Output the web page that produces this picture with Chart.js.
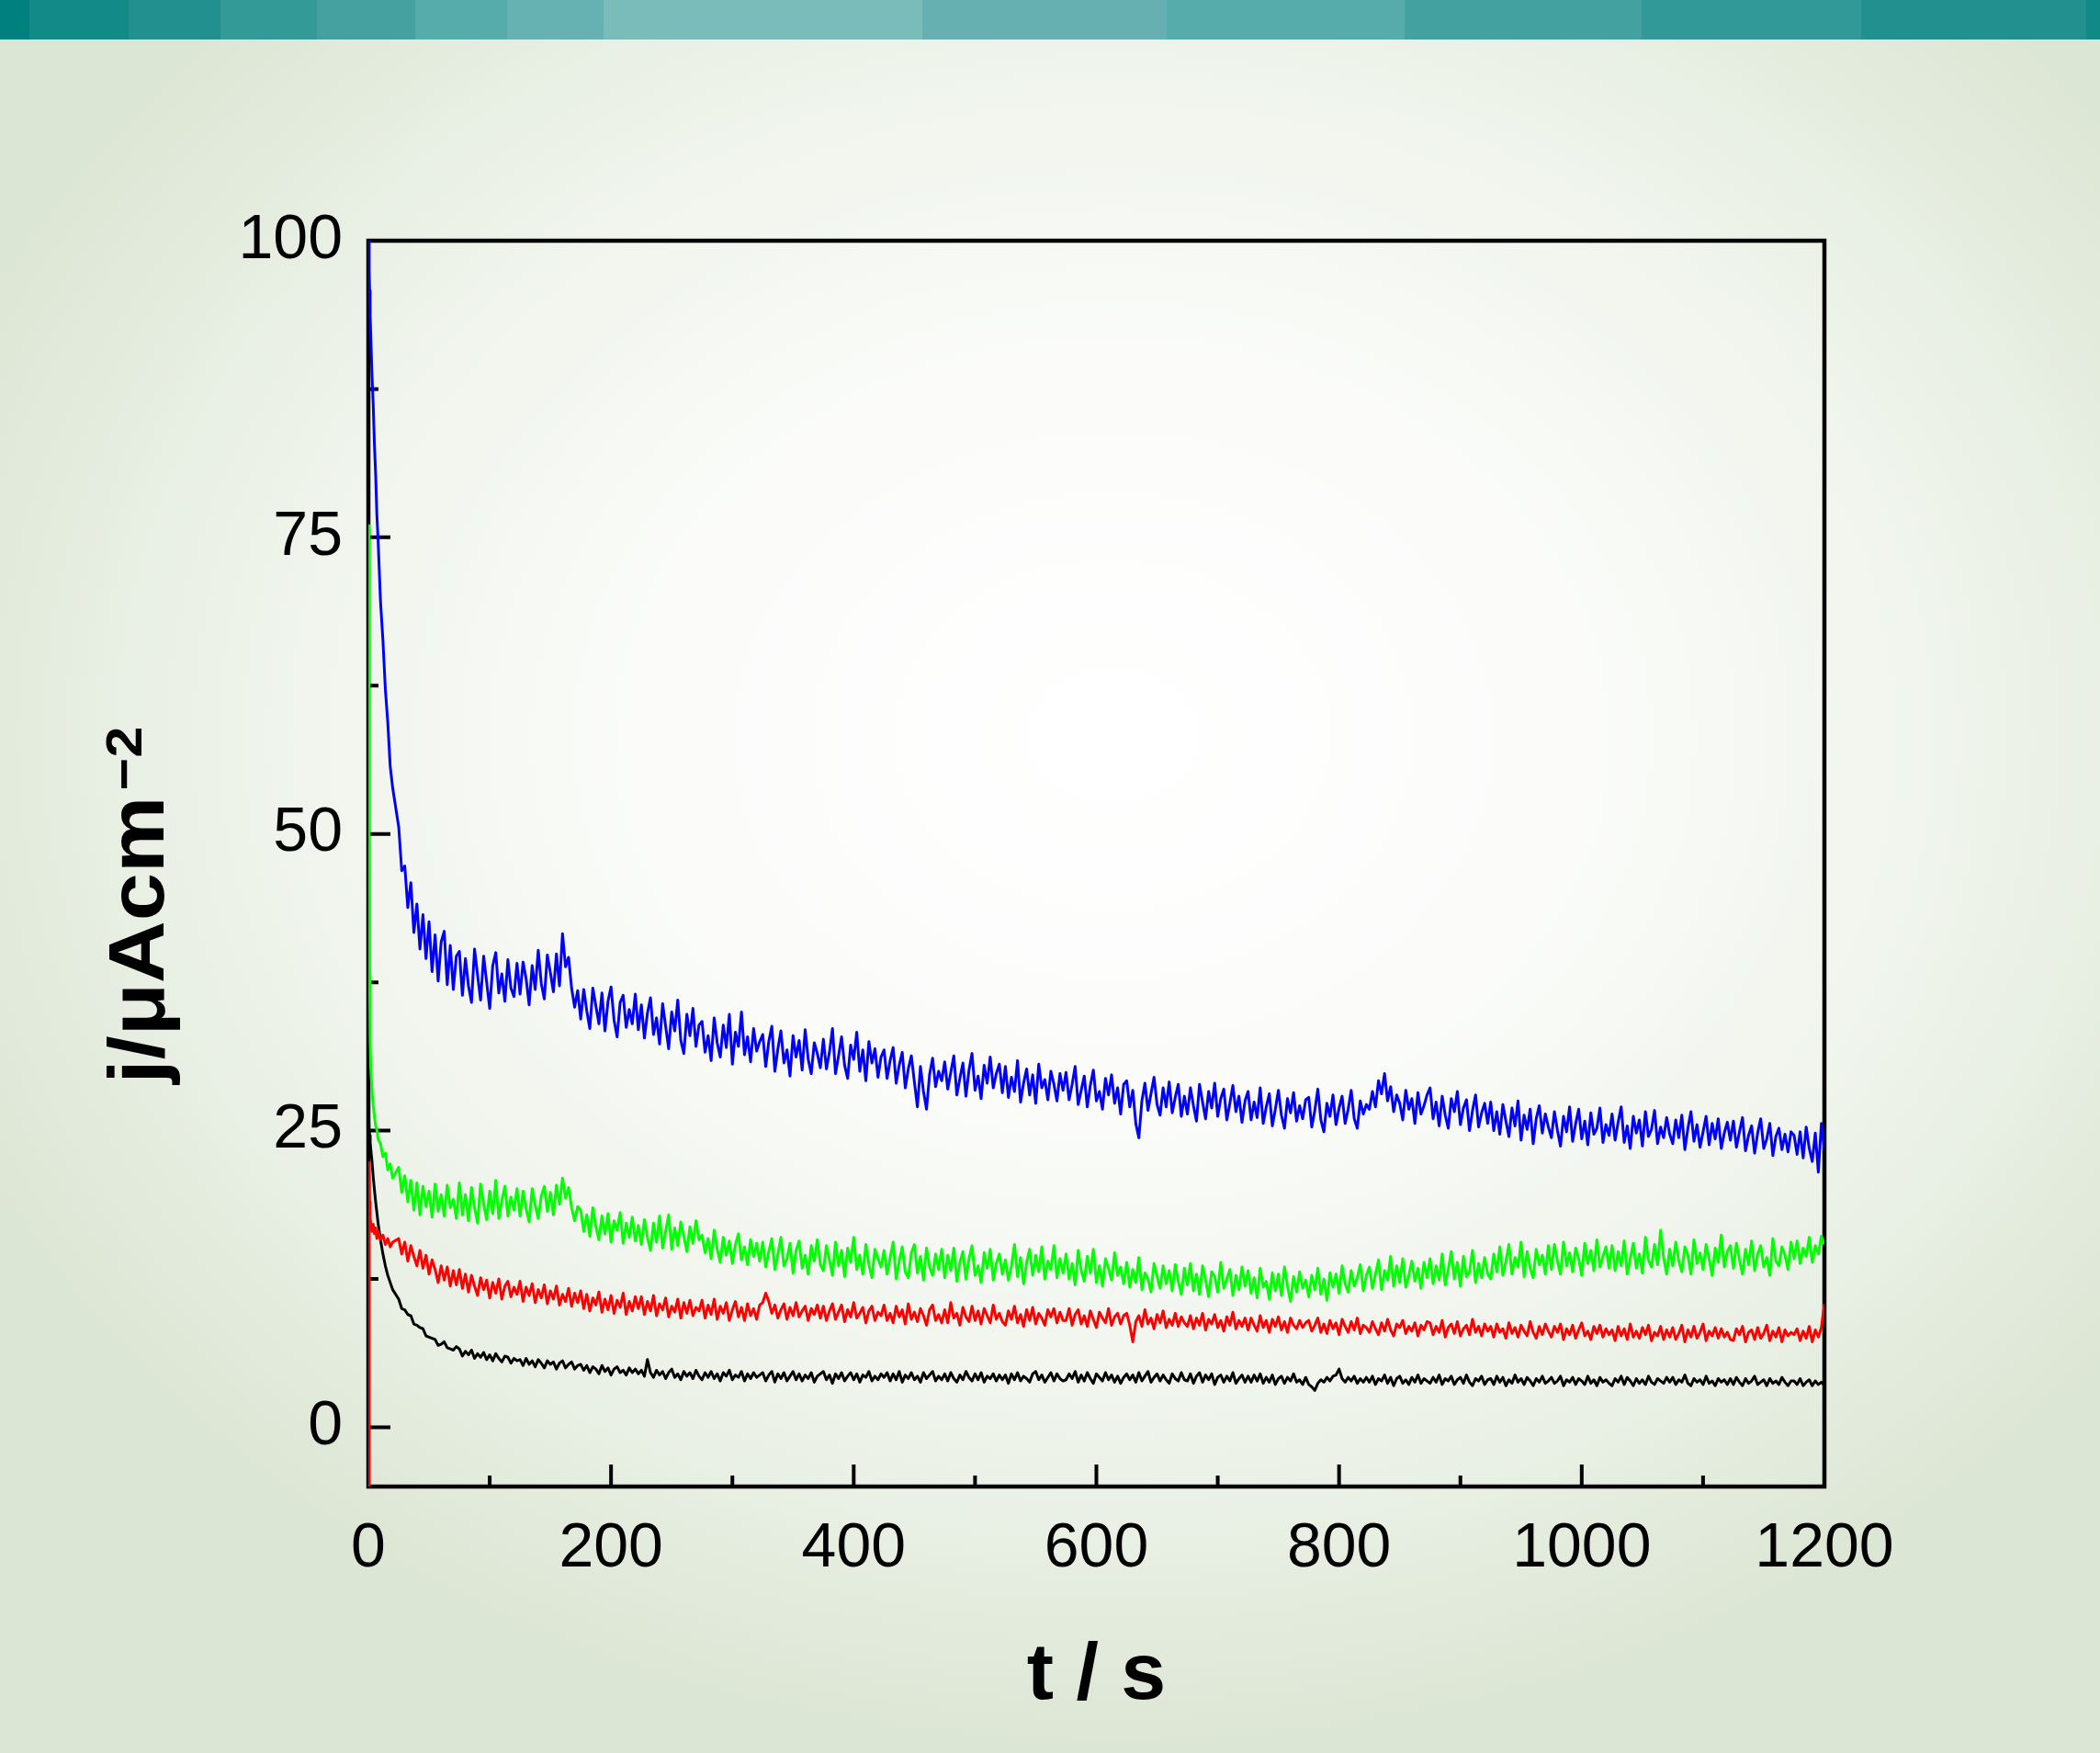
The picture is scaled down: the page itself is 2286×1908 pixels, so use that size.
<!DOCTYPE html>
<html lang="fr">
<head>
<meta charset="utf-8">
<title>j / t</title>
<script src="https://cdn.jsdelivr.net/npm/chart.js@4.4.1/dist/chart.umd.min.js"></script>
<style>
    html, body { margin: 0; padding: 0; }
    body {
        width: 2286px;
        height: 1908px;
        overflow: hidden;
        position: relative;
        background-color: #d9e4d1;
        background-image: radial-gradient(ellipse 60% 58% at 53% 42%, #ffffff 0%, #fbfcfa 36%, #eef3ea 70%, #dce6d4 100%);
    }
    .bandeau {
        position: absolute;
        left: 0;
        top: 0;
        width: 2286px;
        height: 43px;
        background: linear-gradient(to right,
            #00807e 0 32px, #128a88 32px 140px, #22908e 140px 240px, #339a98 240px 345px,
            #44a1a0 345px 452px, #55acaa 452px 552px, #66b2b2 552px 657px, #79bcba 657px 1004px,
            #66b0b1 1004px 1270px, #55acaa 1270px 1529px, #43a1a0 1529px 1787px, #319a98 1787px 2026px,
            #21908e 2026px 2271px, #108987 2271px 2286px);
    }
    canvas { position: absolute; left: 0; top: 0; }
</style>
</head>
<body>
<div class="bandeau"></div>
<canvas id="graphique" width="2286" height="1908"></canvas>
<script>
const canvas = document.getElementById("graphique");

// Graduations des axes
const xGraduations = [0, 200, 400, 600, 800, 1000, 1200];
const xGraduationsMineures = [100, 300, 500, 700, 900, 1100];
const yGraduations = [0, 25, 50, 75, 100];
const yGraduationsMineures = [12.5, 37.5, 62.5, 87.5];

// Temps (s) : début serré, puis un point toutes les 2,5 s de 25 à 1200 s
const tempsDebut = [0, 0.5, 1, 1.5, 2, 3, 4, 5, 6, 7, 8, 10, 12, 14, 16, 18, 20];
const temps = tempsDebut.concat(Array.from({ length: 471 }, (_, i) => 25 + i * 2.5));

// Densité de courant (µA/cm²); une ligne = 50 s
const courantBleu = [
    100, 97.5, 95.8, 93.6, 91.9, 88.7, 86.2, 82.8, 80.3, 76.9, 74.8, 69.6, 66.3, 62.2, 59.4, 55.7, 53.9,
    50.6, 46.9, 47.3, 43.8, 45.9, 41.7, 44.1, 40.3, 43.2, 39.5, 42.6, 38.4, 41.5, 37.6, 40.9, 41.8, 37.3, 40.6, 36.9, 39.7,
    40.1, 36.4, 39.5, 37.2, 35.8, 40.3, 38.1, 36.0, 39.7, 37.5, 35.3, 38.9, 40.0, 36.6, 38.2, 35.9, 39.4, 37.0, 36.3, 39.1,
    36.5, 39.2, 37.8, 35.6, 38.9, 36.9, 40.2, 37.4, 36.1, 39.8, 38.3, 36.7, 39.9, 37.2, 41.6, 38.8, 39.6, 37.0, 35.4, 36.8,
    34.4, 36.9, 35.1, 33.6, 37.0, 35.5, 34.0, 36.6, 33.4, 35.9, 37.1, 34.3, 32.9, 35.8, 36.4, 33.7, 35.2, 34.0, 36.5, 33.5,
    35.6, 32.8, 34.9, 36.2, 33.1, 34.5, 32.3, 35.7, 33.8, 31.9, 35.0, 33.4, 36.0, 32.6, 31.5, 34.8, 33.0, 35.3, 32.1, 33.9,
    34.2, 31.6, 33.0, 30.9, 34.5, 32.4, 31.2, 33.9, 32.0, 34.8, 30.6, 33.3, 32.1, 35.0, 31.4, 32.9, 30.8, 33.6, 31.7, 32.5,
    33.1, 30.4, 32.5, 33.8, 30.0, 31.9, 33.4, 30.7, 31.8, 29.6, 33.0, 31.2, 32.6, 30.1, 33.5, 31.0, 29.8, 32.4, 31.5, 30.3,
    32.7, 30.2, 31.6, 33.6, 29.8, 31.3, 32.9, 30.5, 29.4, 32.2, 31.0, 33.3, 30.0, 31.8, 29.2, 32.5, 30.7, 31.9, 29.5, 31.2,
    31.8, 29.4, 30.9, 32.0, 29.0, 30.5, 31.6, 28.6, 30.2, 31.3, 29.1, 27.0, 30.4, 28.3, 26.8, 29.7, 31.1, 28.7, 30.0, 29.2,
    30.8, 28.5, 29.9, 31.3, 28.0, 29.4, 30.7, 27.9, 30.1, 31.5, 28.4, 29.6, 27.7, 30.5, 29.0, 31.2, 28.6, 29.8, 30.6, 28.2,
    30.4, 27.8, 29.5, 28.3, 30.9, 27.4, 29.0, 30.2, 28.0, 29.7, 27.3, 30.6, 28.6, 29.3, 27.6, 30.0, 28.9, 27.5, 29.8, 28.4,
    29.9, 27.6, 28.9, 30.4, 27.2, 28.4, 29.6, 27.0, 28.8, 30.1, 27.5, 28.3, 26.8, 29.4, 28.0, 29.7, 27.3, 28.6, 26.4, 28.9,
    29.2, 27.0, 28.4, 25.6, 24.4, 27.5, 29.0, 26.7, 28.1, 29.5, 27.2, 26.3, 28.6, 27.0, 29.1, 26.5, 27.8, 28.9, 26.2, 27.9,
    26.4, 28.6, 27.1, 25.8, 28.9, 27.4, 26.0, 28.3, 26.9, 29.0, 26.2, 27.7, 28.5, 25.9, 27.3, 28.8, 26.6, 27.9, 25.7, 27.5,
    28.3, 25.9, 27.4, 26.1, 28.6, 25.6, 27.0, 28.1, 25.4, 26.8, 28.4, 26.3, 25.2, 27.7, 26.5, 28.2, 25.8, 27.1, 26.0, 27.6,
    27.8, 25.3, 26.7, 28.5, 25.9, 24.9, 27.3, 26.2, 28.0, 25.5, 26.9, 27.9, 25.6, 26.8, 28.4, 26.0, 25.2, 27.5, 26.4, 27.2,
    26.8, 28.3, 27.0, 29.2, 28.1, 29.8, 27.5, 28.7, 26.6, 28.0, 27.3, 25.9, 28.4, 26.8, 27.7, 25.6, 28.2, 26.4, 27.1, 28.0,
    28.6, 26.0, 27.4, 25.4, 27.9, 26.3, 25.2, 27.7, 26.6, 28.3, 25.5, 26.9, 27.6, 25.0, 26.7, 28.0, 25.3, 26.5, 27.3, 25.6,
    27.4, 25.0, 26.6, 24.7, 27.2, 25.8, 24.5, 26.9, 25.4, 27.5, 24.2, 26.3, 25.1, 26.8, 23.9, 26.0, 27.1, 24.8, 26.4, 25.3,
    24.4, 26.6, 25.0, 23.7, 26.2, 24.9, 27.0, 24.1, 25.6, 26.8, 24.3, 25.8, 23.8, 26.5, 24.7, 25.2, 26.9, 24.0, 25.5, 24.6,
    26.4, 24.2, 25.7, 27.0, 24.0, 25.4, 23.5, 26.2, 24.8, 25.9, 23.7, 26.6, 24.5, 25.1, 26.7, 23.9, 25.3, 24.4, 26.1, 24.7,
    23.9, 25.9, 24.4, 26.3, 23.4, 25.2, 26.6, 24.1, 25.5, 23.6, 24.9, 26.2, 23.8, 25.6, 24.3, 26.0, 23.5, 24.8, 25.7, 24.2,
    25.8, 23.6, 24.9, 26.1, 23.3, 24.6, 25.4, 23.1, 24.8, 26.0, 23.5, 24.3, 25.6, 22.9, 24.5, 25.2, 23.4, 24.7, 23.2, 24.9,
    24.6, 23.0, 24.9, 22.7, 25.3, 23.5, 22.4, 24.8, 21.5, 25.6, 23.4
];

const courantVert = [
    76, 52, 38, 32.5, 30.2, 28.3, 27.1, 26.2, 25.4, 25.1, 24.3, 23.9, 22.8, 23.1, 21.7, 22.2, 21.0,
    21.9, 19.8, 21.2, 19.0, 20.8, 18.3, 20.6, 17.9, 20.3, 18.6, 19.9, 17.7, 20.5, 18.2, 19.6, 17.8, 20.4, 18.5, 19.2, 17.6,
    20.6, 17.9, 19.6, 17.4, 20.2, 18.5, 17.2, 20.5, 18.8, 17.5, 19.9, 18.0, 20.8, 17.6, 19.1, 20.3, 17.8, 19.4, 18.3, 20.1,
    17.8, 19.9, 18.4, 17.3, 20.1, 18.7, 17.6, 19.5, 20.3, 18.2, 19.8, 17.9, 20.4, 18.8, 21.0, 19.3, 20.2, 18.5, 17.4, 18.6,
    18.3, 16.5, 17.9, 16.1, 18.5, 16.9, 15.8, 17.8, 16.3, 18.0, 15.6, 17.4, 16.6, 18.1, 15.5, 17.2, 16.0, 17.7, 15.7, 17.0,
    15.4, 17.5, 16.0, 14.9, 17.2, 15.6, 17.8, 15.1, 16.5, 17.9, 15.0, 16.8, 15.3, 17.3, 16.1, 14.8, 16.9, 15.5, 17.4, 15.8,
    16.2, 14.7, 15.9, 14.2, 16.6, 15.0, 13.9, 16.0, 14.5, 15.7, 13.8, 15.4, 16.3, 14.1, 15.2, 13.7, 15.8, 14.4, 15.5, 14.0,
    15.6, 13.5, 14.8, 15.9, 13.3, 14.6, 16.0, 13.6, 14.2, 15.5, 13.0, 14.9, 15.7, 13.4, 14.5, 12.9, 15.3, 14.0, 15.8, 13.7,
    13.2, 15.3, 14.1, 12.8, 15.6, 13.6, 14.9, 12.7, 15.1, 13.9, 16.0, 13.3, 14.5, 12.9, 15.4, 13.7, 12.6, 15.0, 14.2, 13.5,
    14.9, 12.9, 14.3, 15.6, 12.5, 14.0, 15.2, 13.1, 12.6, 14.7, 15.4, 13.0, 14.4, 12.4, 15.1, 13.5, 12.8, 14.6, 13.3, 15.0,
    12.6, 14.5, 13.2, 15.1, 12.3, 13.9, 14.8, 12.5, 14.2, 15.3, 12.8, 13.6, 12.2, 14.7, 13.4, 15.0, 12.4, 13.8, 14.6, 12.9,
    14.1, 12.4, 13.6, 15.4, 12.7, 14.3, 12.1, 13.9, 15.0, 12.8, 14.5, 13.1, 15.2, 12.5, 14.0, 13.3, 15.3, 12.6, 14.2, 13.0,
    14.6, 12.5, 13.8, 12.0, 14.9, 13.2, 12.3, 14.4, 13.0, 15.0, 12.2, 13.6, 11.9, 14.2, 13.4, 12.4, 14.7, 12.8, 13.5, 12.1,
    13.9, 11.8, 13.3, 12.2, 14.3, 11.6, 13.0, 12.5, 11.4, 13.8, 12.7, 11.7, 13.6, 12.1, 13.2, 11.5, 13.7, 12.3, 11.2, 13.4,
    12.0, 13.8, 11.5, 12.9, 11.2, 13.6, 12.4, 11.0, 13.1, 12.7, 11.4, 13.9, 11.7, 12.5, 13.3, 11.1, 12.8, 11.6, 13.5, 11.9,
    13.2, 11.3, 12.6, 10.9, 13.4, 11.8, 12.3, 10.8, 13.0, 11.5, 12.9, 11.1, 13.5, 11.9, 10.6, 12.7, 11.4, 13.1, 11.7, 12.4,
    11.0, 12.8, 11.6, 13.4, 11.2, 12.5, 10.7, 13.0, 11.8, 12.9, 11.3, 13.6, 12.1, 11.4, 13.2, 11.9, 12.6, 13.7, 11.5, 12.8,
    13.5, 11.7, 12.9, 14.1, 11.6, 13.2, 12.4, 14.4, 11.9, 13.6, 12.2, 14.2, 11.8, 12.8, 14.0, 12.3, 13.4, 11.7, 13.9, 12.6,
    14.2, 12.1, 13.6, 12.4, 14.6, 12.0, 13.3, 14.8, 12.5, 13.9, 11.9, 14.4, 12.7, 13.1, 14.9, 12.2, 13.8, 12.6, 14.3, 12.9,
    12.5, 14.6, 13.1, 15.2, 12.8, 14.0, 15.4, 12.9, 14.3, 13.5, 15.6, 12.7, 14.8, 13.4, 12.6, 15.0, 13.7, 14.5, 12.9, 15.3,
    13.3, 15.4, 14.0, 12.9, 15.6, 13.6, 14.7, 13.1, 15.1, 14.2, 12.8, 15.5, 13.8, 14.9, 13.2, 15.8, 13.5, 14.4, 15.2, 13.4,
    15.3, 13.2, 14.8, 13.6, 15.7, 12.9, 14.2, 15.5, 13.4, 14.6, 13.0, 16.0, 14.1, 13.5, 15.4, 13.7, 16.6, 14.3, 12.9, 15.0,
    13.6, 15.6, 14.0, 13.1, 15.2, 14.5, 12.9, 15.8, 13.8, 14.7, 13.3, 15.4, 14.2, 12.8, 15.1, 13.9, 16.2, 13.5, 14.8, 15.3,
    13.4, 15.5, 14.1, 12.9, 15.0, 13.7, 15.7, 13.2, 14.6, 15.3, 13.5, 14.3, 12.8, 15.9, 14.0, 13.6, 15.2, 14.5, 13.3, 15.6,
    14.2, 15.7, 13.8, 15.1, 14.4, 16.0, 13.9, 15.3, 14.6, 16.1, 15.4
];

const courantRouge = [
    -5, 22.3, 19.0, 17.6, 17.2, 16.5, 17.1, 16.3, 16.8, 15.9, 16.5, 15.8, 16.2, 15.4, 15.9, 15.2, 15.6,
    15.9, 14.6, 15.6, 14.0, 15.3, 14.4, 13.6, 14.9, 13.4, 14.5, 12.9, 14.1, 13.3, 12.2, 13.6, 12.4, 13.5, 11.9, 13.2, 12.0,
    13.3, 11.7, 12.9, 11.4, 12.8, 11.9, 11.1, 12.6, 11.6, 12.4, 10.9, 12.2, 11.3, 12.5, 10.8, 11.9, 12.3, 11.0, 11.8, 11.2,
    12.3, 10.6, 11.8, 11.1, 12.1, 10.5, 11.6, 10.9, 12.0, 10.4, 11.5, 10.8, 11.9, 10.3, 11.2, 10.6, 11.7, 10.2, 11.3, 10.5,
    11.5, 10.0, 11.2, 9.8, 10.9, 10.3, 11.4, 9.7, 10.8, 9.9, 11.1, 9.6, 10.7, 10.1, 11.3, 9.5, 10.6, 9.8, 11.0, 10.0,
    11.0, 9.5, 10.6, 9.8, 11.1, 9.4, 10.4, 9.9, 10.9, 9.3, 10.2, 9.7, 10.8, 9.2, 10.5, 9.6, 10.7, 9.4, 10.1, 9.8,
    10.7, 9.2, 10.3, 9.5, 10.8, 9.1, 10.2, 9.6, 10.5, 9.0, 9.9, 10.6, 9.3, 10.1, 9.0, 10.4, 9.4, 10.0, 9.1, 10.3,
    10.5, 11.3, 10.6, 9.6, 10.3, 9.2, 9.9, 10.4, 9.1, 10.1, 9.4, 10.5, 9.3, 9.8, 10.2, 9.0, 10.0, 9.5, 10.3, 9.2,
    10.2, 9.0, 9.8, 10.4, 9.1, 9.7, 10.3, 8.9, 9.9, 9.3, 10.5, 9.2, 9.6, 10.1, 8.8, 9.8, 10.2, 9.0, 9.7, 9.4,
    10.3, 9.0, 9.6, 8.8, 10.2, 9.3, 9.9, 8.7, 10.4, 9.1, 9.7, 8.9, 10.0, 9.4, 8.6, 9.9, 10.3, 9.0, 9.5, 8.8,
    9.9, 8.8, 10.5, 9.2, 9.6, 8.6, 10.1, 9.3, 8.9, 10.2, 9.0, 9.8, 8.7, 10.0, 9.4, 8.8, 10.3, 9.1, 9.6, 8.9,
    8.6, 9.8, 9.1, 10.2, 8.8, 9.5, 8.5, 9.9, 9.0, 10.1, 8.7, 9.6, 9.2, 8.6, 9.9, 9.3, 10.0, 8.8, 9.7, 9.0,
    9.0, 10.0, 8.6, 9.5, 9.9, 8.7, 9.4, 8.5, 9.8, 9.1, 8.4, 9.7, 9.2, 8.8, 10.0, 8.6, 9.3, 9.6, 8.7, 9.4,
    9.6, 8.6, 7.2, 8.9, 9.4, 8.5, 9.9, 8.7, 9.2, 8.3, 9.5, 8.8, 9.8, 8.4, 9.1, 8.6, 9.6, 8.5, 9.3, 8.8,
    8.5, 9.4, 8.3, 9.2, 8.6, 9.6, 8.2, 9.1, 8.7, 9.5, 8.4, 9.0, 8.1, 9.3, 8.6, 9.7, 8.3, 9.0, 8.5, 9.2,
    8.2, 9.2, 8.6, 8.1, 9.4, 8.4, 9.0, 8.0, 9.1, 8.5, 9.3, 8.2, 8.9, 8.0, 9.2, 8.6, 8.3, 9.0, 8.4, 8.8,
    9.0, 8.1, 8.6, 9.2, 8.0, 8.7, 7.9, 9.0, 8.3, 8.8, 7.8, 9.1, 8.5, 8.0, 8.9, 8.2, 9.2, 7.9, 8.6, 8.4,
    8.0, 8.9, 8.3, 7.8, 8.8, 8.1, 9.1, 8.2, 7.7, 8.7, 8.4, 9.0, 7.9, 8.5, 8.1, 8.8, 7.7, 8.6, 8.2, 8.9,
    8.8, 7.8, 8.5, 8.0, 9.0, 7.6, 8.4, 8.7, 7.9, 8.9, 7.7, 8.3, 8.6, 7.8, 9.1, 8.0, 8.5, 7.7, 8.7, 8.1,
    8.5, 7.6, 8.7, 8.0, 8.3, 7.5, 8.8, 7.9, 8.4, 7.6, 8.6, 8.1, 7.7, 8.9, 8.0, 7.5, 8.5, 7.8, 8.7, 8.1,
    7.6, 8.5, 8.0, 8.7, 7.4, 8.3, 7.8, 8.6, 7.5, 8.2, 8.8, 7.7, 8.1, 7.4, 8.5, 7.9, 8.6, 7.6, 8.3, 7.8,
    8.2, 7.3, 8.5, 7.7, 8.3, 7.4, 8.7, 7.6, 8.1, 7.5, 8.4, 7.8, 8.6, 7.3, 8.0, 7.7, 8.5, 7.4, 8.2, 7.6,
    8.4, 7.4, 7.9, 8.6, 7.2, 8.2, 7.6, 8.5, 7.5, 8.0, 8.7, 7.3, 8.1, 7.7, 8.4, 7.5, 8.3, 7.6, 8.0, 7.4,
    7.3, 8.3, 7.8, 8.5, 7.2, 8.0, 8.2, 7.4, 8.4, 7.5, 7.9, 8.6, 7.3, 8.1, 7.6, 8.4, 7.2, 8.2, 7.7, 8.0,
    7.8, 8.3, 7.3, 8.1, 7.5, 8.5, 7.2, 8.2, 7.6, 8.4, 10.4
];

const courantNoir = [
    25.6, 25.2, 24.6, 24.0, 23.4, 22.4, 21.1, 20.0, 19.0, 18.1, 17.2, 15.8, 14.6, 13.6, 12.8, 12.2, 11.6,
    10.8, 10.0, 9.9, 9.5, 9.4, 8.7, 8.6, 8.4, 8.3, 7.7, 7.6, 7.5, 7.4, 6.9, 7.0, 7.2, 6.7, 6.6, 6.5, 6.8,
    6.6, 6.0, 6.4, 6.1, 6.5, 5.8, 6.2, 5.9, 6.3, 5.7, 6.1, 5.6, 6.2, 5.8, 5.5, 6.0, 5.9, 5.4, 5.8, 5.6,
    5.7, 5.2, 5.8, 5.3, 5.6, 5.1, 5.7, 5.4, 5.0, 5.6, 5.3, 5.5, 4.9, 5.4, 5.6, 5.0, 5.3, 5.5, 4.9, 5.2,
    5.3, 4.8, 5.2, 4.6, 5.1, 4.9, 4.5, 5.2, 4.7, 5.0, 4.4, 4.9, 5.1, 4.6, 4.8, 4.4, 5.0, 4.6, 4.9, 4.5,
    4.8, 4.3, 5.7, 4.6, 4.2, 4.8, 4.4, 4.7, 4.1, 4.6, 4.9, 4.2, 4.5, 4.0, 4.7, 4.3, 4.6, 4.1, 4.8, 4.3,
    4.0, 4.6, 4.2, 4.7, 4.1, 4.5, 3.9, 4.6, 4.3, 4.8, 4.0, 4.4, 4.2, 4.7, 3.9, 4.5, 4.1, 4.6, 4.2, 4.4,
    4.6, 3.9, 4.4, 4.7, 3.8, 4.5, 4.1, 4.6, 3.9, 4.3, 4.7, 4.0, 4.5, 3.9, 4.4, 4.1, 4.6, 3.8, 4.3, 4.5,
    4.7, 4.0, 4.4, 3.7, 4.5, 4.1, 4.6, 3.9, 4.3, 4.6, 4.0, 4.5, 3.8, 4.4, 4.2, 4.7, 3.9, 4.3, 4.0, 4.5,
    4.2, 4.6, 3.9, 4.5, 4.0, 4.7, 3.8, 4.4, 4.1, 4.6, 4.0, 4.3, 3.8, 4.6, 4.1, 4.4, 4.7, 3.9, 4.3, 4.0,
    4.5, 3.9, 4.6, 4.1, 3.8, 4.4, 4.0, 4.7, 4.2, 3.9, 4.5, 4.0, 4.6, 3.8, 4.3, 4.1, 4.5, 3.9, 4.4, 4.0,
    4.4, 3.7, 4.5, 4.0, 4.6, 3.9, 4.3, 4.1, 3.8, 4.5, 4.7, 4.0, 4.4, 3.8, 4.2, 4.6, 3.9, 4.5, 4.1, 3.9,
    4.0, 4.5, 4.1, 4.7, 3.8, 4.4, 3.9, 4.6, 4.1, 3.7, 4.5, 4.2, 3.9, 4.6, 4.0, 4.4, 3.8, 4.3, 3.7, 4.2,
    4.5, 4.0, 4.4, 3.8, 4.6, 3.9, 4.3, 4.7, 3.8, 4.2, 4.5, 3.9, 4.4, 4.0, 3.7, 4.5, 4.1, 3.9, 4.6, 4.0,
    3.9, 4.5, 3.7, 4.3, 4.6, 3.8, 4.4, 4.0, 4.5, 3.6, 4.2, 4.4, 3.8, 4.3, 3.9, 4.6, 3.7, 4.1, 4.4, 3.8,
    4.3, 3.8, 4.4, 3.9, 4.5, 3.7, 4.2, 3.8, 4.4, 3.6, 4.1, 4.3, 3.7, 4.2, 3.9, 4.5, 3.8, 4.0, 3.6, 4.2,
    3.6, 3.4, 3.1, 3.7, 4.0, 3.8, 4.2, 3.9, 4.3, 4.4, 4.9, 4.1, 3.8, 4.2, 3.9, 4.3, 3.7, 4.1, 3.8, 4.2,
    3.8, 4.3, 3.6, 4.1, 3.9, 4.4, 3.7, 4.2, 3.5, 4.1, 4.3, 3.7, 4.0, 3.6, 4.2, 3.8, 4.4, 3.7, 4.1, 3.9,
    3.7, 4.2, 3.8, 4.4, 3.6, 4.1, 3.9, 4.3, 3.6, 4.0, 4.2, 3.7, 4.4, 3.8, 3.5, 4.1, 3.9, 4.3, 3.6, 4.0,
    4.1, 3.6, 4.3, 3.8, 4.2, 3.5, 4.0, 3.7, 4.4, 3.8, 4.1, 3.6, 4.2, 3.9, 3.5, 4.1, 3.8, 4.3, 3.7, 3.9,
    4.2, 3.7, 3.9, 4.3, 3.5, 4.0, 3.8, 4.2, 3.6, 4.1, 3.9, 3.6, 4.3, 3.7, 4.0, 3.5, 4.2, 3.8, 4.0, 3.7,
    3.5, 4.1, 3.8, 4.3, 3.6, 4.2, 3.9, 3.5, 4.1, 3.7, 4.0, 3.6, 4.3, 3.8, 3.6, 4.1, 3.9, 3.7, 4.2, 3.8,
    4.2, 3.6, 4.0, 3.8, 4.4, 3.7, 3.5, 4.1, 3.8, 4.0, 3.6, 4.3, 3.7, 3.9, 3.5, 4.1, 3.8, 4.0, 3.6, 4.1,
    3.6, 4.2, 3.8, 3.5, 4.1, 3.7, 3.9, 4.3, 3.6, 3.8, 4.0, 3.5, 4.1, 3.7, 3.9, 3.6, 4.2, 3.8, 3.5, 3.9,
    3.9, 3.6, 4.1, 3.5, 3.8, 4.0, 3.5, 3.9, 3.6, 3.8, 3.5
];

[courantBleu, courantVert, courantRouge, courantNoir].forEach(s => {
    if (s.length !== temps.length) console.warn('longueur', s.length, temps.length);
});

const police = '"Liberation Sans", Arial, sans-serif';

function points(valeurs) {
    // associe chaque valeur à son instant
    return valeurs.map((v, i) => ({ x: temps[i], y: v }));
}

function courbe(valeurs, couleur) {
    return {
        data: points(valeurs),
        borderColor: couleur,
        borderWidth: 3,
        borderJoinStyle: 'round',
        pointRadius: 0,
        tension: 0,
        fill: false,
    };
}

// Cadre, graduations internes et titres des axes
const cadre = {
    id: 'cadre',
    beforeDatasetsDraw(chart) {
        const { ctx, chartArea: a, scales: { x, y } } = chart;
        ctx.save();
        ctx.strokeStyle = '#000';
        ctx.lineWidth = 4;
        ctx.beginPath();
        xGraduations.forEach(v => {
            const px = x.getPixelForValue(v);
            ctx.moveTo(px, a.bottom);
            ctx.lineTo(px, a.bottom - 24);
        });
        xGraduationsMineures.forEach(v => {
            const px = x.getPixelForValue(v);
            ctx.moveTo(px, a.bottom);
            ctx.lineTo(px, a.bottom - 12);
        });
        yGraduations.forEach(v => {
            const py = y.getPixelForValue(v);
            ctx.moveTo(a.left, py);
            ctx.lineTo(a.left + 24, py);
        });
        yGraduationsMineures.forEach(v => {
            const py = y.getPixelForValue(v);
            ctx.moveTo(a.left, py);
            ctx.lineTo(a.left + 11, py);
        });
        ctx.stroke();
        ctx.lineWidth = 4.5;
        ctx.strokeRect(a.left, a.top, a.right - a.left, a.bottom - a.top);
        ctx.restore();
    },
    afterDraw(chart) {
        const { ctx, scales: { x } } = chart;
        ctx.save();
        ctx.fillStyle = '#000';
        ctx.textBaseline = 'alphabetic';

        // titre de l'axe x
        ctx.textAlign = 'center';
        ctx.font = 'bold 88px ' + police;
        ctx.fillText('t / s', x.getPixelForValue(600), 1849);

        // titre de l'axe y, avec exposant
        const principal = 'j/μAcm';
        const exposant = '−2';
        ctx.textAlign = 'left';
        ctx.font = 'bold 86px ' + police;
        const lP = ctx.measureText(principal).width;
        ctx.font = 'bold 56px ' + police;
        const lE = ctx.measureText(exposant).width;
        ctx.translate(178, 985);
        ctx.rotate(-Math.PI / 2);
        ctx.scale(1.09, 1);
        const debut = -(lP + lE + 6) / 2;
        ctx.font = 'bold 86px ' + police;
        ctx.fillText(principal, debut, 0);
        ctx.font = 'bold 56px ' + police;
        ctx.fillText(exposant, debut + lP + 6, -24);
        ctx.restore();
    }
};

new Chart(canvas.getContext('2d'), {
    type: 'line',
    data: {
        datasets: [
            courbe(courantRouge, '#ff0000'),
            courbe(courantNoir, '#000000'),
            courbe(courantVert, '#00ff00'),
            courbe(courantBleu, '#0000ff'),
        ],
    },
    options: {
        responsive: false,
        animation: false,
        layout: { padding: { top: 262, right: 300, left: 0, bottom: 0 } },
        plugins: {
            legend: { display: false },
            tooltip: { enabled: false },
        },
        scales: {
            x: {
                type: 'linear',
                min: 0,
                max: 1200,
                afterBuildTicks: s => { s.ticks = xGraduations.map(v => ({ value: v })); },
                afterFit: s => { s.height = 290; },
                grid: { display: false, drawTicks: false },
                border: { display: false },
                ticks: {
                    color: '#000',
                    padding: 27,
                    maxRotation: 0,
                    autoSkip: false,
                    font: { family: police, size: 68 },
                    callback: v => String(v),
                },
            },
            y: {
                type: 'linear',
                min: -5,
                max: 100,
                afterBuildTicks: s => { s.ticks = yGraduations.map(v => ({ value: v })); },
                afterFit: s => { s.width = 401; },
                grid: { display: false, drawTicks: false },
                border: { display: false },
                ticks: {
                    color: '#000',
                    padding: 28,
                    font: { family: police, size: 68 },
                    callback: v => String(v),
                },
            },
        },
    },
    plugins: [cadre],
});
</script>
</body>
</html>
